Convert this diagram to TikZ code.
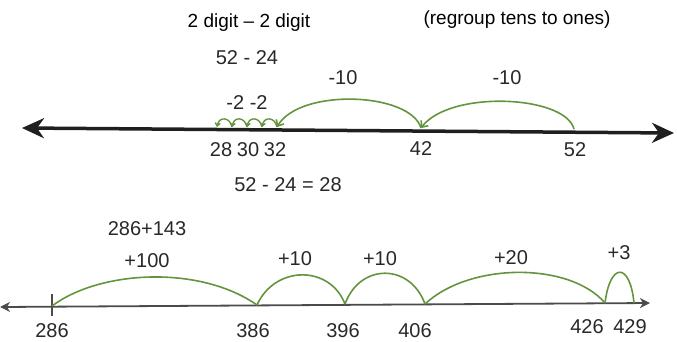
\documentclass[tikz,border=0pt]{standalone}
\usepackage{fontspec}
\setmainfont{Liberation Sans}
\usetikzlibrary{arrows.meta}
\definecolor{jumpgreen}{RGB}{100,148,62}
\definecolor{ink}{RGB}{40,40,40}
\definecolor{axisgray}{RGB}{75,75,75}
\tikzset{
  heading/.style={font=\fontsize{19}{21}\selectfont, text=black, inner sep=0pt},
  hand/.style={font=\fontsize{20}{22}\selectfont, text=ink, inner sep=0pt},
  mainaxis/.style={line width=3.5pt, draw=black!88, {Stealth[length=22pt,width=20pt,inset=7pt]}-{Stealth[length=22pt,width=20pt,inset=7pt]}},
  lowaxis/.style={line width=1.8pt, draw=axisgray, {Stealth[length=10pt,width=10pt,inset=3pt]}-{Stealth[length=10pt,width=10pt,inset=3pt]}},
  jump/.style={draw=jumpgreen, line width=1.6pt},
  backjump/.style={jump, -{Straight Barb[length=5pt,width=9pt]}},
  tinyjump/.style={draw=jumpgreen, line width=1.4pt, -{Straight Barb[length=3pt,width=5pt]}},
  ticktk/.style={draw=axisgray, line width=1.6pt}
}
\begin{document}
\begin{tikzpicture}[x=1pt,y=-1pt]
\useasboundingbox (0,0) rectangle (677,341);

% ---------- top number line ----------
\coordinate (tl) at (22,128);
\coordinate (tr) at (674,133);
\draw[mainaxis] (tl) -- (tr);

\coordinate (p52) at (574,129);
\coordinate (p42) at (421,128);
\coordinate (p32) at (277,127);
\coordinate (p31) at (262,127);
\coordinate (p30) at (247,127);
\coordinate (p29) at (232,127);
\coordinate (p28) at (217,127);

\draw[backjump] (p52) .. controls (565,95) and (450,90) .. (p42);
\draw[backjump] (p42) .. controls (410,92) and (300,88) .. (p32);
\draw[tinyjump] (p32) .. controls (275,117) and (264,116) .. (p31);
\draw[tinyjump] (p31) .. controls (260,117) and (249,116) .. (p30);
\draw[tinyjump] (p30) .. controls (245,117) and (234,116) .. (p29);
\draw[tinyjump] (p29) .. controls (230,117) and (219,116) .. (p28);

\node[heading] (title) at (249,23) {2 digit -- 2 digit};
\node[heading] (regroup) at (517,20) {(regroup tens to ones)};
\node[hand] (prob) at (247,58) {52 - 24};
\node[hand] (m10a) at (343,78) {-10};
\node[hand] (m10b) at (507,78) {-10};
\node[hand] (m2) at (247,103) {-2 -2};
\node[hand] (l28) at (221,150) {28};
\node[hand] (l30) at (248,150) {30};
\node[hand] (l32) at (275,150) {32};
\node[hand] (l42) at (421,149) {42};
\node[hand] (l52) at (575,150) {52};
\node[hand] (answer) at (288,185) {52 - 24 = 28};

% ---------- bottom number line ----------
\coordinate (bl) at (0,307);
\coordinate (br) at (650,303);
\draw[lowaxis] (bl) -- (br);

\coordinate (q286) at (52,306);
\coordinate (q386) at (257,305);
\coordinate (q396) at (345,304);
\coordinate (q406) at (425,304);
\coordinate (q426) at (605,303);
\coordinate (q429) at (634,303);
\coordinate (tick1) at (52,294);
\coordinate (tick2) at (52,316);
\draw[ticktk] (tick1) -- (tick2);

\draw[jump] (q286) .. controls (100,270) and (200,265) .. (q386);
\draw[jump] (q386) .. controls (275,265) and (330,265) .. (q396);
\draw[jump] (q396) .. controls (360,263) and (410,263) .. (q406);
\draw[jump] (q406) .. controls (470,262) and (570,262) .. (q426);
\draw[jump] (q426) .. controls (610,262) and (630,262) .. (q429);

\node[hand] (sum) at (147,229) {286+143};
\node[hand] (p100) at (147,261) {+100};
\node[hand] (p10a) at (295,259) {+10};
\node[hand] (p10b) at (380,259) {+10};
\node[hand] (p20) at (511,258) {+20};
\node[hand] (p3) at (619,253) {+3};
\node[hand] (n286) at (52,331) {286};
\node[hand] (n386) at (253,331) {386};
\node[hand] (n396) at (343,331) {396};
\node[hand] (n406) at (415,331) {406};
\node[hand] (n426) at (587,327) {426};
\node[hand] (n429) at (630,327) {429};
\end{tikzpicture}
\end{document}
